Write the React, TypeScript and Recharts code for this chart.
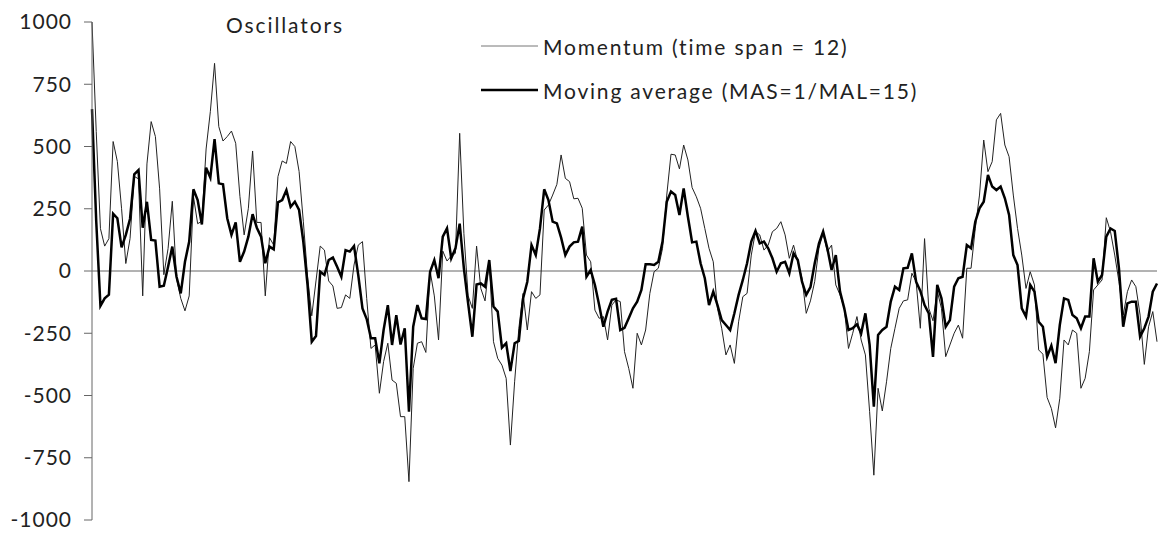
import React from 'react';
import { LineChart, Line, XAxis, YAxis, ReferenceLine } from 'recharts';

const momentum = [
  1000, 560, 170, 100, 130, 520, 440, 250, 30, 130,
  380, 370, -100, 430, 600, 540, 330, -15, 90, 280,
  -30, -110, -160, -100, 300, 190, 200, 490, 640, 834,
  580, 522, 540, 562, 513, 300, 145, 252, 482, 195,
  195, -100, 134, 104, 379, 442, 432, 520, 500, 400,
  200, -20, -180, -40, 100, 84, -40, -60, -150, -147,
  -96, -110, 24, 104, 118, -110, -311, -297, -491, -364,
  -290, -438, -451, -585, -585, -846, -391, -290, -284, -327,
  0, -100, -277, 80, 40, 60, 71, 553, 150, -100,
  -150, 100, -70, -120, 37, -284, -351, -378, -431, -699,
  -445, -230, -90, -237, -83, -110, -96, 245, 265, 305,
  348, 466, 372, 359, 290, 292, 252, 64, 37, -157,
  -190, -183, -277, -137, -116, -123, -324, -391, -471, -250,
  -297, -237, -90, -3, 11, 91, 305, 469, 466, 410,
  506, 446, 335, 298, 252, 171, 91, 37, -150, -230,
  -337, -297, -371, -204, -103, -90, 64, 158, 145, 84,
  104, 158, 171, 198, 145, 51, 104, 37, -29, -170,
  -120, -43, 91, 151, 78, 104, -56, -96, -150, -311,
  -250, -183, -277, -337, -565, -820, -471, -562, -445, -311,
  -230, -150, -120, -116, -9, -43, -230, 130, -150, -200,
  -80, -150, -344, -297, -250, -217, -270, 11, 11, 171,
  305, 526, 399, 439, 607, 633, 506, 459, 305, 171,
  64, -70, -3, -56, -317, -334, -508, -552, -630, -511,
  -277, -297, -237, -250, -471, -431, -324, -76, -56, -36,
  214, 158, 64, -43, -177, -83, -36, -63, -177, -375,
  -224, -163, -284,
];

const movingAverage = [
  650, 200, -140, -110, -95, 230, 212, 95, 145, 210,
  388, 405, 174, 278, 125, 122, -63, -59, 17, 98,
  -23, -90, 37, 118, 328, 285, 187, 415, 375, 530,
  352, 348, 212, 145, 195, 37, 78, 138, 228, 174,
  138, 31, 98, 87, 276, 285, 325, 258, 278, 245,
  118, -56, -284, -261, -3, -16, 44, 54, 17, -23,
  84, 78, 100, -16, -150, -193, -270, -270, -371, -237,
  -137, -297, -177, -295, -230, -565, -224, -137, -190, -193,
  -3, 44, -29, 138, 171, 51, 91, 190, 10, -130,
  -264, -54, -50, -63, 44, -143, -163, -308, -290, -402,
  -290, -281, -110, -43, 104, 64, 171, 328, 285, 198,
  191, 134, 64, 98, 115, 118, 178, -23, 4, -56,
  -137, -224, -163, -116, -112, -237, -228, -190, -150, -123,
  -76, 27, 27, 24, 37, 118, 278, 319, 305, 225,
  332, 218, 115, 118, 31, -29, -137, -83, -137, -197,
  -217, -237, -170, -96, -36, 31, 118, 161, 111, 118,
  91, 51, -3, 31, 37, -9, 71, 44, -43, -96,
  -65, 30, 110, 158, 91, 4, 64, -83, -150, -237,
  -230, -214, -250, -170, -297, -545, -257, -237, -224, -123,
  -63, -76, 11, 13, 71, -43, -80, -137, -170, -345,
  -56, -110, -224, -197, -63, -29, -23, 104, 91, 198,
  252, 278, 386, 339, 325, 339, 292, 225, 64, 24,
  -150, -183, -56, -83, -204, -224, -344, -300, -370, -217,
  -110, -116, -177, -190, -230, -183, -183, 51, -43, -16,
  138, 171, 161, 11, -224, -130, -123, -123, -264, -230,
  -183, -83, -50,
];

const periods = momentum.map((_, i) => String(i + 1));
const yTicks = [-1000, -750, -500, -250, 0, 250, 500, 750, 1000];
const chartTitle = 'Oscillators';
const momentumName = 'Momentum (time span = 12)';
const averageName = 'Moving average (MAS=1/MAL=15)';

const data = periods.map((p, i) => ({
  period: p,
  momentum: momentum[i],
  average: movingAverage[i],
}));

const FONT = 'Lato, "Noto Sans", sans-serif';

export default function App() {
  return (
    <div style={{ position: 'absolute', left: 0, top: 0, width: 1160, height: 533, background: '#fff' }}>
      <LineChart
        width={1160}
        height={533}
        data={data}
        margin={{ top: 22, right: 3, bottom: 13, left: 0 }}
      >
        <XAxis dataKey="period" hide />
        <YAxis
          width={92}
          domain={[-1000, 1000]}
          ticks={yTicks}
          interval={0}
          tickSize={8}
          tickMargin={12}
          axisLine={{ stroke: '#666', strokeWidth: 1 }}
          tickLine={{ stroke: '#666', strokeWidth: 1 }}
          tick={{ fill: '#222', fontSize: 21, fontFamily: FONT, letterSpacing: 1 }}
        />
        <ReferenceLine y={0} stroke="#666" strokeWidth={1} />
        <Line
          type="linear"
          dataKey="momentum"
          name={momentumName}
          stroke="#222"
          strokeWidth={1}
          dot={false}
          activeDot={false}
          isAnimationActive={false}
        />
        <Line
          type="linear"
          dataKey="average"
          name={averageName}
          stroke="#000"
          strokeWidth={2.5}
          dot={false}
          activeDot={false}
          isAnimationActive={false}
        />
      </LineChart>
      <div
        style={{
          position: 'absolute',
          left: 226,
          top: 14,
          fontFamily: FONT,
          fontSize: 21,
          lineHeight: '22px',
          letterSpacing: 1.9,
          color: '#222',
          whiteSpace: 'nowrap',
        }}
      >
        {chartTitle}
      </div>
      <div
        style={{
          position: 'absolute',
          left: 481,
          top: 24,
          fontFamily: FONT,
          fontSize: 21,
          letterSpacing: 1.8,
          color: '#222',
        }}
      >
        <div style={{ display: 'flex', alignItems: 'center', height: 44 }}>
          <svg width={57} height={10} style={{ display: 'block' }}>
            <line x1={0} y1={5} x2={57} y2={5} stroke="#777" strokeWidth={1} />
          </svg>
          <span style={{ marginLeft: 5, whiteSpace: 'nowrap' }}>{momentumName}</span>
        </div>
        <div style={{ display: 'flex', alignItems: 'center', height: 44 }}>
          <svg width={57} height={10} style={{ display: 'block' }}>
            <line x1={0} y1={5} x2={57} y2={5} stroke="#000" strokeWidth={2.5} />
          </svg>
          <span style={{ marginLeft: 5, whiteSpace: 'nowrap' }}>{averageName}</span>
        </div>
      </div>
    </div>
  );
}
